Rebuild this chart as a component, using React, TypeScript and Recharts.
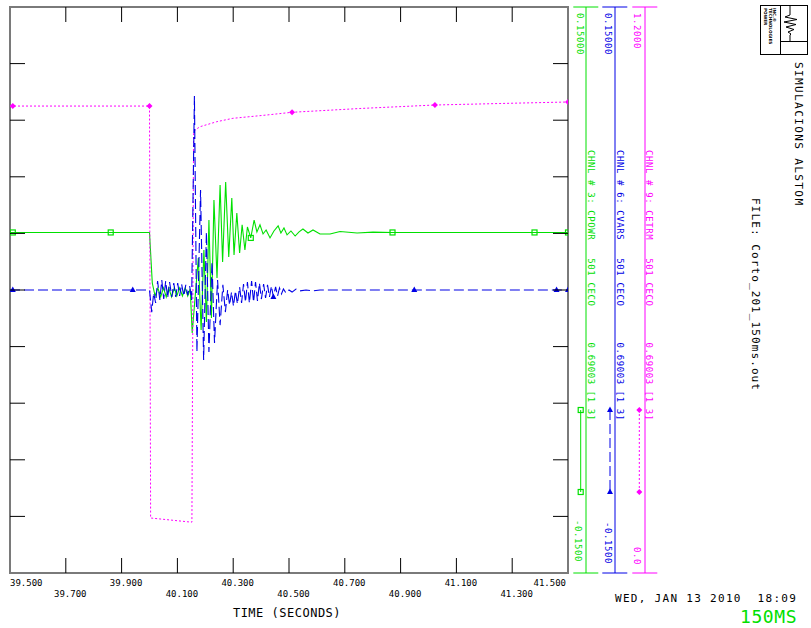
import React from "react";
import { LineChart, Line, XAxis, YAxis, ReferenceArea } from "recharts";

// channel traces as [time (s), value] pairs
const CPOWR: [number, number][] = [
  [39.5, 0.0305], [39.51, 0.0305], [39.861, 0.0305], [40.0, 0.0305],
  [40.01, 0.0037], [40.02, -0.0032], [40.03, 0.0011], [40.04, -0.0037],
  [40.05, 0.0011], [40.06, -0.0037], [40.069, 0.0011], [40.079, -0.0037],
  [40.089, 0.0011], [40.098, -0.0032], [40.108, 0.0011], [40.118, -0.0032],
  [40.128, 0.0011], [40.137, -0.0032], [40.146, 0.0005], [40.153, -0.0228],
  [40.175, 0.017], [40.185, -0.0212], [40.195, 0.0212], [40.204, -0.017],
  [40.213, 0.0371], [40.222, -0.0148], [40.231, 0.0477], [40.242, 0.0064],
  [40.253, 0.0557], [40.262, 0.0148], [40.273, 0.0572], [40.284, 0.0175],
  [40.295, 0.0488], [40.303, 0.0186], [40.313, 0.0408], [40.323, 0.0196],
  [40.332, 0.0346], [40.342, 0.0212], [40.351, 0.0334], [40.363, 0.0276],
  [40.375, 0.0371], [40.385, 0.0308], [40.396, 0.0346], [40.407, 0.0297],
  [40.418, 0.0318], [40.432, 0.0276], [40.446, 0.0313], [40.461, 0.034],
  [40.471, 0.0302], [40.482, 0.0329], [40.493, 0.0292], [40.507, 0.0313],
  [40.522, 0.0286], [40.536, 0.0308], [40.55, 0.0323], [40.568, 0.0302],
  [40.586, 0.0318], [40.611, 0.0297], [40.647, 0.0297], [40.683, 0.031],
  [40.744, 0.0302], [40.801, 0.0307], [40.871, 0.0305], [41.38, 0.0305],
  [41.5, 0.0305],
];

const CVARS: [number, number][] = [
  [39.5, 0], [39.51, 0], [39.94, 0], [40.0, 0],
  [40.008, -0.0117], [40.015, -0.0016], [40.022, -0.0069], [40.029, 0.0048],
  [40.037, -0.0053], [40.044, 0.0053], [40.051, -0.0048], [40.058, 0.0048],
  [40.065, -0.0042], [40.072, 0.0042], [40.08, -0.0037], [40.087, 0.0037],
  [40.094, -0.0037], [40.101, 0.0037], [40.108, -0.0032], [40.115, 0.0032],
  [40.123, -0.0032], [40.13, 0.0027], [40.137, -0.0027], [40.144, 0.0021],
  [40.151, -0.0053], [40.161, 0.1028], [40.17, -0.0329], [40.183, 0.053],
  [40.194, -0.0371], [40.204, 0.0307], [40.213, -0.0329], [40.224, 0.0148],
  [40.233, -0.0281], [40.244, 0.0053], [40.253, -0.0186], [40.263, 0.0027],
  [40.272, -0.0117], [40.28, 0.0], [40.287, -0.008], [40.294, -0.0011],
  [40.301, -0.0085], [40.308, -0.0005], [40.315, -0.0074], [40.323, 0.0016],
  [40.33, -0.0069], [40.337, 0.0032], [40.344, -0.0064], [40.351, 0.0042],
  [40.358, -0.0069], [40.366, 0.0048], [40.373, -0.0064], [40.38, 0.0042],
  [40.387, -0.0058], [40.394, 0.0037], [40.401, -0.0048], [40.409, 0.0032],
  [40.416, -0.0042], [40.423, 0.0027], [40.43, -0.0037], [40.437, 0.0021],
  [40.444, -0.0037], [40.452, 0.0016], [40.459, -0.0032], [40.466, 0.0011],
  [40.473, -0.0021], [40.48, 0.0005], [40.489, -0.0016], [40.5, 0],
  [40.511, -0.0011], [40.525, 0.0005], [40.539, -0.0005], [40.561, 0],
  [40.586, -0.0005], [40.611, 0], [40.949, 0], [41.459, 0], [41.5, 0],
];

const CETRM: [number, number][] = [
  [39.5, 0.99], [39.51, 0.99], [40.0, 0.99], [40.004, 0.1166],
  [40.145, 0.1081], [40.152, 0.1079], [40.158, 0.932], [40.163, 0.939],
  [40.181, 0.9462], [40.241, 0.9568], [40.299, 0.964], [40.42, 0.971],
  [40.511, 0.9768], [40.754, 0.9848], [41.023, 0.9922], [41.256, 0.9954],
  [41.5, 0.9986],
];

// sample times that carry a channel symbol
const CPOWR_MARKS = [39.51, 39.861, 40.363, 40.871, 41.38, 41.5];
const CVARS_MARKS = [39.51, 39.94, 40.444, 40.949, 41.459, 41.5];
const CETRM_MARKS = [39.51, 40.0, 40.511, 41.023, 41.5];

const TIME_TICKS = [39.5, 39.7, 39.9, 40.1, 40.3, 40.5, 40.7, 40.9, 41.1, 41.3, 41.5];
const VALUE_TICKS = [-0.12, -0.09, -0.06, -0.03, 0, 0.03, 0.06, 0.09, 0.12];

const GREEN = "#00e000";
const BLUE = "#0000e6";
const MAGENTA = "#ff00ff";
const FONT = "'DejaVu Sans Mono', monospace";

const W = 811;
const H = 628;
const LEFT = 10;
const TOP = 7;
const RIGHT = 568;
const BOTTOM = 573;
const TICK = 15;
const AXIS = 1; // thickness reserved by each tick-only axis

type Kind = "square" | "triangle" | "diamond";

function Marker({ kind, x, y, color }: { kind: Kind; x: number; y: number; color: string }) {
  if (kind === "square")
    return <rect x={x - 2.5} y={y - 2.5} width={5} height={5} fill="none" stroke={color} strokeWidth={1.2} />;
  if (kind === "triangle")
    return <polygon points={`${x},${y - 3.5} ${x - 3},${y + 2} ${x + 3},${y + 2}`} fill={color} />;
  return <polygon points={`${x},${y - 3} ${x + 3},${y} ${x},${y + 3} ${x - 3},${y}`} fill={color} />;
}

const toRows = (pts: [number, number][]) => pts.map(([t, v]) => ({ t, v }));

function markerDot(marks: number[], kind: Kind, color: string) {
  return (p: any) => {
    const hit = p.payload && marks.some((m) => Math.abs(m - p.payload.t) < 1e-9);
    if (!hit || p.cx == null) return <g key={`m-${p.index}`} />;
    return <Marker key={`m-${p.index}`} kind={kind} x={p.cx} y={p.cy} color={color} />;
  };
}

const tickIndex = (v: number) => TIME_TICKS.findIndex((t) => Math.abs(t - v) < 1e-9);

function BottomTick(p: any) {
  const x = p.x;
  const i = tickIndex(p.payload.value);
  const last = TIME_TICKS.length - 1;
  let anchor = "middle";
  let tx = x + 4.5;
  if (i === 0) {
    anchor = "start";
    tx = x;
  } else if (i === last) {
    anchor = "end";
    tx = x - 2;
  }
  return (
    <g>
      {i > 0 && i < last && <line x1={x} x2={x} y1={BOTTOM} y2={BOTTOM - TICK} stroke="#000" />}
      <text x={tx} y={i % 2 === 0 ? 586 : 597} textAnchor={anchor} fontFamily={FONT} fontSize={9} fill="#000">
        {Number(p.payload.value).toFixed(3)}
      </text>
    </g>
  );
}

function TopTick(p: any) {
  const x = p.x;
  const i = tickIndex(p.payload.value);
  if (i <= 0 || i >= TIME_TICKS.length - 1) return <g />;
  return <line x1={x} x2={x} y1={TOP} y2={TOP + TICK} stroke="#000" />;
}

function LeftTick(p: any) {
  const y = p.y;
  return <line x1={LEFT} x2={LEFT + TICK} y1={y} y2={y} stroke="#000" />;
}

function RightTick(p: any) {
  const y = p.y;
  return <line x1={RIGHT - TICK} x2={RIGHT} y1={y} y2={y} stroke="#000" />;
}

// vertical text, reading top to bottom
function VText({ x, y, color, size = 9, spacing = 0.6, children }: any) {
  return (
    <text
      x={x}
      y={y}
      transform={`rotate(90 ${x} ${y})`}
      fill={color}
      fontFamily={FONT}
      fontSize={size}
      letterSpacing={spacing}
      style={{ whiteSpace: "pre" }}
    >
      {children}
    </text>
  );
}

const channels = [
  {
    axisX: 586, labelX: 577, bottomX: 575, nameX: 588, sampleX: 580.7, color: GREEN,
    top: "0.15000", bottom: "-0.1500", bottomY: 520,
    name: "CHNL # 3: CPOWR   501 CECO      0.69003 [1 3]",
    kind: "square" as Kind, dash: undefined,
  },
  {
    axisX: 615, labelX: 605, bottomX: 605, nameX: 617, sampleX: 610, color: BLUE,
    top: "0.15000", bottom: "-0.1500", bottomY: 522,
    name: "CHNL # 6: CVARS   501 CECO      0.69003 [1 3]",
    kind: "triangle" as Kind, dash: "10 4",
  },
  {
    axisX: 645, labelX: 634, bottomX: 634, nameX: 646, sampleX: 639.3, color: MAGENTA,
    top: "1.2000", bottom: "0.0", bottomY: 547,
    name: "CHNL # 9: CETRM   501 CECO      0.69003 [1 3]",
    kind: "diamond" as Kind, dash: "2 2",
  },
];

function Decorations() {
  return (
    <svg width={W} height={H} style={{ position: "absolute", left: 0, top: 0, pointerEvents: "none" }}>
      {channels.map((c) => (
        <g key={c.name}>
          <line x1={c.axisX} x2={c.axisX} y1={TOP} y2={BOTTOM} stroke={c.color} />
          <line x1={c.axisX - 12.7} x2={c.axisX + 12.3} y1={TOP} y2={TOP} stroke={c.color} />
          <line x1={c.axisX - 12.7} x2={c.axisX + 12.3} y1={BOTTOM} y2={BOTTOM} stroke={c.color} />
          <VText x={c.labelX} y={13} color={c.color}>{c.top}</VText>
          <VText x={c.nameX} y={150} color={c.color}>{c.name}</VText>
          <VText x={c.bottomX} y={c.bottomY} color={c.color}>{c.bottom}</VText>
          <line x1={c.sampleX} x2={c.sampleX} y1={410} y2={492} stroke={c.color} strokeDasharray={c.dash} />
          <Marker kind={c.kind} x={c.sampleX} y={410} color={c.color} />
          <Marker kind={c.kind} x={c.sampleX} y={492} color={c.color} />
        </g>
      ))}

      {/* vendor logo block */}
      <g stroke="#000" fill="none" strokeWidth={1}>
        <rect x={760.5} y={5.5} width={47} height={49} />
        <line x1={780.5} x2={780.5} y1={5.5} y2={54.5} />
        <line x1={780.5} x2={807.5} y1={41.5} y2={41.5} />
        <path d="M790,5.5 V15 L785,17 L797,19.5 L784,22 L796,24.5 L786,27 L794,29.5 L788,32 L791,34 L790,35 V41.5" />
      </g>
      <g fill="#000" fontFamily="'DejaVu Sans', sans-serif" fontSize={4.2} fontWeight="bold">
        <text x={764} y={8} transform="rotate(90 764 8)">POWER</text>
        <text x={768.5} y={8} transform="rotate(90 768.5 8)">TECHNOLOGIES</text>
        <text x={773} y={8} transform="rotate(90 773 8)">INC.®</text>
      </g>

      <VText x={795} y={62} color="#000" size={11} spacing={1.4}>SIMULACIONS ALSTOM</VText>
      <VText x={752} y={198} color="#000" size={11} spacing={1.1}>FILE: Corto_201_150ms.out</VText>

      <text x={287} y={617} textAnchor="middle" fontFamily={FONT} fontSize={12} letterSpacing={0.5} fill="#000" style={{ whiteSpace: "pre" }}>
        TIME (SECONDS)
      </text>
      <text x={615} y={602} fontFamily={FONT} fontSize={11} letterSpacing={1.3} fill="#000" style={{ whiteSpace: "pre" }}>
        WED, JAN 13 2010  18:09
      </text>
      <text x={740} y={623} fontFamily={FONT} fontSize={18} letterSpacing={0.6} fill={GREEN}>
        150MS
      </text>
    </svg>
  );
}

export default function App() {
  return (
    <div style={{ position: "absolute", left: 0, top: 0, width: W, height: H, background: "#fff" }}>
      <div style={{ position: "absolute", left: 0, top: 0 }}>
        <LineChart
          width={W}
          height={H}
          margin={{ top: TOP - AXIS, left: LEFT - AXIS, right: W - RIGHT - AXIS, bottom: H - BOTTOM - AXIS }}
        >
          <XAxis
            xAxisId="b"
            dataKey="t"
            type="number"
            domain={[39.5, 41.5]}
            ticks={TIME_TICKS}
            interval={0}
            height={AXIS}
            tickLine={false}
            axisLine={false}
            tick={(p: any) => <BottomTick {...p} />}
            allowDataOverflow
          />
          <XAxis
            xAxisId="top"
            orientation="top"
            dataKey="t"
            type="number"
            domain={[39.5, 41.5]}
            ticks={TIME_TICKS}
            interval={0}
            height={AXIS}
            tickLine={false}
            axisLine={false}
            tick={(p: any) => <TopTick {...p} />}
            allowDataOverflow
          />
          <YAxis
            yAxisId="pw"
            type="number"
            domain={[-0.15, 0.15]}
            ticks={VALUE_TICKS}
            interval={0}
            width={AXIS}
            tickLine={false}
            axisLine={false}
            tick={(p: any) => <LeftTick {...p} />}
            allowDataOverflow
          />
          <YAxis
            yAxisId="r"
            orientation="right"
            type="number"
            domain={[-0.15, 0.15]}
            ticks={VALUE_TICKS}
            interval={0}
            width={AXIS}
            tickLine={false}
            axisLine={false}
            tick={(p: any) => <RightTick {...p} />}
            allowDataOverflow
          />
          <YAxis yAxisId="mg" hide type="number" domain={[0, 1.2]} allowDataOverflow />
          <ReferenceArea
            xAxisId="b"
            yAxisId="pw"
            x1={39.5}
            x2={41.5}
            y1={-0.15}
            y2={0.15}
            fill="none"
            stroke="#7a7a7a"
            strokeWidth={2}
            ifOverflow="visible"
          />
          <Line
            xAxisId="b"
            yAxisId="pw"
            data={toRows(CPOWR)}
            dataKey="v"
            type="linear"
            stroke={GREEN}
            strokeWidth={1.1}
            dot={markerDot(CPOWR_MARKS, "square", GREEN)}
            activeDot={false}
            isAnimationActive={false}
          />
          <Line
            xAxisId="b"
            yAxisId="mg"
            data={toRows(CETRM)}
            dataKey="v"
            type="linear"
            stroke={MAGENTA}
            strokeWidth={1}
            strokeDasharray="2 2"
            dot={markerDot(CETRM_MARKS, "diamond", MAGENTA)}
            activeDot={false}
            isAnimationActive={false}
          />
          <Line
            xAxisId="b"
            yAxisId="pw"
            data={toRows(CVARS)}
            dataKey="v"
            type="linear"
            stroke={BLUE}
            strokeWidth={1.1}
            strokeDasharray="10 4"
            dot={markerDot(CVARS_MARKS, "triangle", BLUE)}
            activeDot={false}
            isAnimationActive={false}
          />
        </LineChart>
      </div>
      <Decorations />
    </div>
  );
}
